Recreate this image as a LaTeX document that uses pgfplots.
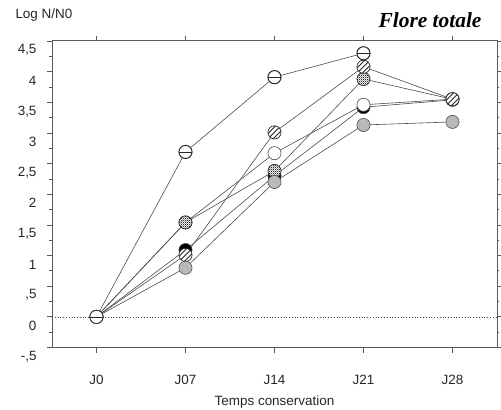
\documentclass[border=0pt]{standalone}
\usepackage{pgfplots}
\pgfplotsset{compat=1.18}
\usepackage{fontspec}
\setmainfont{Liberation Sans}
\newfontfamily\timesfont{Liberation Serif}
\usetikzlibrary{patterns}

\pgfdeclarepatternformonly{checker}{\pgfpointorigin}{\pgfpoint{2.2pt}{2.2pt}}{\pgfpoint{2.2pt}{2.2pt}}{%
 \pgfpathrectangle{\pgfpointorigin}{\pgfpoint{1.1pt}{1.1pt}}%
 \pgfpathrectangle{\pgfpoint{1.1pt}{1.1pt}}{\pgfpoint{1.1pt}{1.1pt}}%
 \pgfusepath{fill}}

\pgfdeclareplotmark{ominus}{%
 \pgfpathcircle{\pgfpointorigin}{\pgfplotmarksize}%
 \pgfsetfillcolor{white}%
 \pgfusepathqfillstroke
 \pgfpathmoveto{\pgfpoint{-\pgfplotmarksize}{-0.1\pgfplotmarksize}}%
 \pgfpathlineto{\pgfpoint{\pgfplotmarksize}{-0.1\pgfplotmarksize}}%
 \pgfsetlinewidth{1pt}%
 \pgfusepathqstroke}

\pgfdeclareplotmark{hatch}{%
 \pgfpathcircle{\pgfpointorigin}{\pgfplotmarksize}%
 \pgfsetfillcolor{white}%
 \pgfusepathqfill
 \begin{pgfscope}%
 \pgfpathcircle{\pgfpointorigin}{\pgfplotmarksize}%
 \pgfusepath{clip}%
 \pgfsetlinewidth{0.9pt}%
 \pgfpathmoveto{\pgfpoint{-\pgfplotmarksize}{-1.8\pgfplotmarksize}}%
 \pgfpathlineto{\pgfpoint{\pgfplotmarksize}{0.2\pgfplotmarksize}}%
 \pgfpathmoveto{\pgfpoint{-\pgfplotmarksize}{-\pgfplotmarksize}}%
 \pgfpathlineto{\pgfpoint{\pgfplotmarksize}{\pgfplotmarksize}}%
 \pgfpathmoveto{\pgfpoint{-\pgfplotmarksize}{-0.2\pgfplotmarksize}}%
 \pgfpathlineto{\pgfpoint{\pgfplotmarksize}{1.8\pgfplotmarksize}}%
 \pgfusepathqstroke
 \end{pgfscope}%
 \pgfpathcircle{\pgfpointorigin}{\pgfplotmarksize}%
 \pgfusepathqstroke}

\pgfdeclareplotmark{checkered}{%
 \pgfpathcircle{\pgfpointorigin}{\pgfplotmarksize}%
 \pgfsetfillcolor{white}%
 \pgfusepathqfill
 \begin{pgfscope}%
 \pgfpathcircle{\pgfpointorigin}{\pgfplotmarksize}%
 \pgfsetfillpattern{checker}{black!85}%
 \pgfusepath{fill}%
 \end{pgfscope}%
 \pgfpathcircle{\pgfpointorigin}{\pgfplotmarksize}%
 \pgfusepathqstroke}

\definecolor{mkgrey}{RGB}{185,185,185}

\begin{document}
\begin{tikzpicture}
\useasboundingbox (-52bp,-62.5bp) rectangle (449bp,347.5bp);
\begin{axis}[
 scale only axis, width=445bp, height=306.5bp,
 xmin=-0.5, xmax=4.5, ymin=-0.5, ymax=4.5,
 xtick={0,1,2,3,4}, xticklabels={J0,J07,J14,J21,J28},
 ytick={-0.5,0,0.5,1,1.5,2,2.5,3,3.5,4,4.5},
 yticklabels={{-,5},0,{,5},1,{1,5},2,{2,5},3,{3,5},4,{4,5}},
 minor y tick num=1,
 tick align=outside, tick pos=both,
 major tick length=5bp, minor tick length=2.5bp,
 axis line style={draw=black!65, line width=1pt},
 every tick/.style={black!65, line width=0.8pt},
 tick label style={font=\fontsize{13.5}{16}\selectfont, text=black!85},
 yticklabel style={yshift=-9bp, xshift=-7bp},
 xticklabel style={yshift=-19bp},
 xlabel={Temps conservation},
 xlabel style={font=\fontsize{13.5}{16}\selectfont, text=black!85, yshift=-4bp},
 clip=false,
 every axis plot/.append style={color=black!70, line width=0.6pt, mark size=6.6pt,
   mark options={solid, draw=black!85, line width=0.7pt}},
]
\addplot[black!70, line width=0.5pt, dash pattern=on 0.8pt off 2pt, mark=none] coordinates {(-0.5,0) (4.5,0)};
% black
\addplot[mark=*, mark options={fill=black}] coordinates {(0,0) (1,1.09) (2,2.30) (3,3.42) (4,3.54)};
% white
\addplot[mark=*, mark options={fill=white}] coordinates {(0,0) (1,1.54) (2,2.67) (3,3.46) (4,3.55)};
% checkered
\addplot[mark=checkered] coordinates {(0,0) (1,1.54) (2,2.38) (3,3.88) (4,3.55)};
% hatched
\addplot[mark=hatch] coordinates {(0,0) (1,1.01) (2,3.01) (3,4.08) (4,3.55)};
% grey
\addplot[mark=*, mark options={fill=mkgrey}] coordinates {(0,0) (1,0.80) (2,2.20) (3,3.13) (4,3.18)};
% ominus
\addplot[mark=ominus] coordinates {(0,0) (1,2.69) (2,3.91) (3,4.30)};
\end{axis}
\node[anchor=west, font=\fontsize{13.5}{16}\selectfont, text=black!85] at (-40bp,332.5bp) {Log N/N0};
\node[anchor=east, font=\fontsize{21.5}{24}\timesfont\bfseries\itshape] at (433bp,327.5bp) {Flore totale};
\end{tikzpicture}
\end{document}
